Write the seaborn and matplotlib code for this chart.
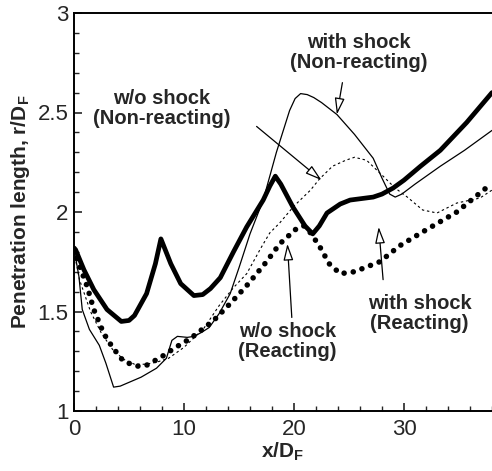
import numpy as np
import pandas as pd
import matplotlib
matplotlib.use("Agg")
import matplotlib.pyplot as plt
from matplotlib.ticker import MultipleLocator, FuncFormatter
import seaborn as sns

# with shock (Reacting) - thick solid
x_ws_react = [0, 0.15, 0.9, 1.8, 3.0, 4.3, 5.0, 5.5, 6.6, 7.4, 7.9, 8.8, 9.7, 10.9, 11.7, 12.4, 13.3,
              14.5, 15.7, 17.2, 17.8, 18.3, 18.8, 19.9, 21.0, 21.7, 22.3, 23.0, 24.2, 25.1,
              27.2, 28.0, 29.0, 30.0, 31.5, 33.3, 35.7, 38.0]
y_ws_react = [1.82, 1.81, 1.71, 1.61, 1.51, 1.45, 1.455, 1.48, 1.59, 1.74, 1.865, 1.74, 1.64, 1.58, 1.585, 1.615, 1.67,
              1.80, 1.925, 2.06, 2.13, 2.18, 2.14, 2.025, 1.93, 1.89, 1.93, 1.995, 2.04, 2.06,
              2.075, 2.09, 2.12, 2.16, 2.23, 2.31, 2.45, 2.60]

# with shock (Non-reacting) - thin solid
x_ws_nonr = [0, 0.15, 0.45, 0.75, 1.4, 2.3, 2.9, 3.6, 4.2, 6.1, 7.5, 8.4, 8.9, 9.4, 10.3, 10.9,
             11.6, 12.3, 13.2, 14.2, 15.0, 16.0, 17.2, 18.4, 19.6, 20.1, 20.6, 21.2, 21.8, 22.5, 23.9, 25.5,
             27.2, 28.0, 28.7, 29.2, 29.8, 31.0, 33.3, 35.5, 38.0]
y_ws_nonr = [1.81, 1.77, 1.675, 1.51, 1.41, 1.33, 1.24, 1.12, 1.125, 1.17, 1.215, 1.265, 1.355, 1.375, 1.37, 1.375,
             1.395, 1.42, 1.49, 1.59, 1.72, 1.89, 2.06, 2.30, 2.51, 2.57, 2.595, 2.59, 2.575, 2.55, 2.49, 2.39,
             2.27, 2.17, 2.09, 2.075, 2.09, 2.14, 2.23, 2.31, 2.41]

# w/o shock (Non-reacting) - fine dotted
x_wo_nonr = [0, 0.5, 1.5, 2.5, 3.5, 4.5, 5.5, 6.5, 7.5, 8.6, 10.0, 11.8, 13.2, 14.5, 15.7, 17.0,
             17.8, 18.7, 20.0, 21.5, 22.3, 23.5, 24.7, 25.5, 26.6, 28.1, 29.2, 30.3, 31.7, 33.0,
             34.8, 36.9, 38.0]
y_wo_nonr = [1.80, 1.66, 1.50, 1.39, 1.31, 1.26, 1.235, 1.235, 1.245, 1.265, 1.32, 1.415, 1.53, 1.62, 1.69, 1.82,
             1.895, 1.945, 2.03, 2.11, 2.165, 2.23, 2.26, 2.275, 2.26, 2.18, 2.12, 2.075, 2.01, 1.995,
             2.045, 2.07, 2.11]

# w/o shock (Reacting) - thick dotted
x_wo_react = [0, 0.3, 1.2, 1.8, 2.7, 3.5, 4.5, 5.7, 6.6, 7.9, 9.1, 10.6, 12.7, 14.2, 15.7, 17.5,
              18.7, 20.3, 20.9, 21.5, 22.3, 23.2, 24.2, 25.5, 27.8, 29.6, 31.7, 34.8, 38.0]
y_wo_react = [1.81, 1.76, 1.625, 1.51, 1.39, 1.32, 1.25, 1.225, 1.23, 1.27, 1.315, 1.365, 1.455, 1.54, 1.63, 1.75,
              1.84, 1.92, 1.93, 1.895, 1.83, 1.74, 1.69, 1.70, 1.75, 1.83, 1.90, 2.0, 2.145]

y_ticks = [1, 1.5, 2, 2.5, 3]
x_ticks = [0, 10, 20, 30]

sns.set_style("ticks")
plt.rcParams['font.family'] = ['Liberation Sans', 'DejaVu Sans']
plt.rcParams['mathtext.fontset'] = 'custom'
plt.rcParams['mathtext.rm'] = 'Liberation Sans'
plt.rcParams['mathtext.bf'] = 'Liberation Sans:bold'
plt.rcParams['mathtext.it'] = 'Liberation Sans:bold'

fig = plt.figure(figsize=(4.92, 4.71), dpi=100)
ax = fig.add_axes([74/492, 60/471, 418/492, 398/471])

def df(x, y):
    return pd.DataFrame({"x": x, "y": y})

sns.lineplot(data=df(x_ws_nonr, y_ws_nonr), x="x", y="y", ax=ax, color="black",
             linewidth=0.9, estimator=None, sort=False)
sns.lineplot(data=df(x_wo_nonr, y_wo_nonr), x="x", y="y", ax=ax, color="black",
             linewidth=0.8, linestyle=(0, (2.2, 2.5)), estimator=None, sort=False)
sns.lineplot(data=df(x_wo_react, y_wo_react), x="x", y="y", ax=ax, color="black",
             linewidth=4.0, linestyle=(0, (0.01, 1.65)), dash_capstyle="round",
             estimator=None, sort=False)
sns.lineplot(data=df(x_ws_react, y_ws_react), x="x", y="y", ax=ax, color="black",
             linewidth=3.4, estimator=None, sort=False, solid_joinstyle="round")

ax.set_xlim(0, 38)
ax.set_ylim(1, 3)
ax.set_xticks(x_ticks)
ax.set_yticks(y_ticks)
ax.xaxis.set_minor_locator(MultipleLocator(2))
ax.yaxis.set_minor_locator(MultipleLocator(0.1))
ax.yaxis.set_major_formatter(FuncFormatter(lambda v, p: f"{v:g}"))
ax.tick_params(which="major", direction="in", length=6, width=1.2, labelsize=16, pad=4)
ax.tick_params(which="minor", direction="in", length=3.5, width=1.0)
ax.tick_params(axis="x", which="major", pad=6)
ax.tick_params(top=False, right=False, which="both")
for s in ["left", "bottom", "top"]:
    ax.spines[s].set_linewidth(1.4)
    ax.spines[s].set_color("black")
ax.spines["right"].set_visible(False)

ax.set_xlabel(r"x/D$_\mathbf{F}$", fontsize=15, fontweight="bold", labelpad=0)
ax.set_ylabel(r"Penetration length, r/D$_\mathbf{F}$", fontsize=15, fontweight="bold", labelpad=4)

tkw = dict(ha="center", va="center", fontsize=14.5, fontweight="bold", linespacing=1.05)
ax.text(8.0, 2.52, "w/o shock\n(Non-reacting)", **tkw)
ax.text(25.9, 2.80, "with shock\n(Non-reacting)", **tkw)
ax.text(31.4, 1.49, "with shock\n(Reacting)", **tkw)
ax.text(19.4, 1.35, "w/o shock\n(Reacting)", **tkw)

akw = dict(arrowstyle="-|>,head_length=1.0,head_width=0.3", fc="white", ec="black",
           lw=0.9, mutation_scale=10, shrinkA=0, shrinkB=0)
ax.annotate("", xy=(22.5, 2.16), xytext=(16.6, 2.43), arrowprops=akw)
ax.annotate("", xy=(23.9, 2.49), xytext=(24.4, 2.65), arrowprops=akw)
ax.annotate("", xy=(27.7, 1.925), xytext=(28.1, 1.66), arrowprops=akw)
ax.annotate("", xy=(19.4, 1.84), xytext=(19.8, 1.47), arrowprops=akw)

fig.savefig("out.png", dpi=100)
